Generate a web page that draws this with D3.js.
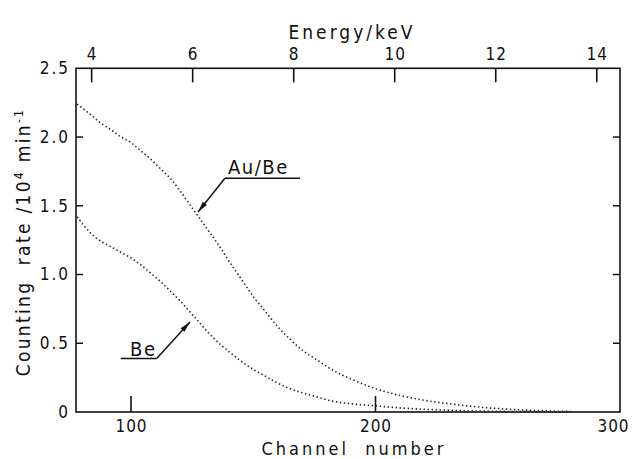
<!DOCTYPE html>
<html>
<head>
<meta charset="utf-8">
<script src="https://cdn.jsdelivr.net/npm/d3@7"></script>
<style>
  html, body { margin: 0; padding: 0; background: #fff; }
  svg text {
    font-family: 'DejaVu Sans Condensed', 'DejaVu Sans', sans-serif;
    font-stretch: condensed;
    fill: #111;
  }
</style>
</head>
<body>
<svg id="chart" width="632" height="459"></svg>
<script>
// Channel numbers at which both spectra are sampled
const channels = [78, 83, 87, 92, 96, 100, 104, 108, 112, 116, 120, 124, 128, 132, 136, 140,
  145, 150, 155, 160, 165, 170, 176, 182, 190, 200, 210, 220, 230, 240, 250, 260, 270, 280];
// Counting rate (10^4 min^-1), Au/Be source
const auBeRate = [2.24, 2.17, 2.11, 2.05, 2.00, 1.96, 1.90, 1.84, 1.77, 1.70, 1.61, 1.51, 1.41, 1.31,
  1.21, 1.10, 0.97, 0.84, 0.73, 0.62, 0.53, 0.45, 0.38, 0.31, 0.24, 0.17, 0.12, 0.085, 0.06, 0.04,
  0.025, 0.015, 0.008, 0.004];
// Counting rate (10^4 min^-1), Be source
const beRate = [1.42, 1.31, 1.25, 1.20, 1.16, 1.12, 1.07, 1.01, 0.95, 0.88, 0.81, 0.73, 0.65, 0.57,
  0.50, 0.44, 0.37, 0.31, 0.26, 0.21, 0.17, 0.14, 0.11, 0.08, 0.06, 0.045, 0.03, 0.02, 0.013, 0.008,
  0.005, 0.003, 0.001, 0.0];

const channelTicks = [100, 200, 300];
const energyTicks = [4, 6, 8, 10, 12, 14];
const rateTicks = [0, 0.5, 1.0, 1.5, 2.0, 2.5];
const rateTickLabels = ["0", "0.5", "1.0", "1.5", "2.0", "2.5"];

const svg = d3.select("#chart");
const plotL = 76, plotR = 620, plotT = 68.3, plotB = 412;

const x = d3.scaleLinear().domain([77.5, 300]).range([plotL, plotR]);
const xE = d3.scaleLinear().domain([3.69, 14.46]).range([plotL, plotR]);
const y = d3.scaleLinear().domain([0, 2.5]).range([plotB, plotT]);

// Frame
svg.append("rect")
  .attr("x", plotL).attr("y", plotT)
  .attr("width", plotR - plotL).attr("height", plotB - plotT)
  .attr("fill", "none").attr("stroke", "#111").attr("stroke-width", 1.6);

// Bottom axis: channel number (ticks point inward)
const gB = svg.append("g").attr("transform", `translate(0,${plotB})`)
  .call(d3.axisBottom(x).tickValues(channelTicks).tickSize(0).tickPadding(8).tickFormat(d3.format("d")));
gB.select(".domain").remove();
gB.selectAll("text").attr("font-size", 17).attr("letter-spacing", 1).attr("fill", "#111")
  .attr("dx", d => d === 300 ? -7 : 0);
svg.append("g").selectAll("line").data(channelTicks.filter(d => d < 300)).join("line")
  .attr("x1", d => x(d)).attr("x2", d => x(d))
  .attr("y1", plotB).attr("y2", plotB - 16)
  .attr("stroke", "#111").attr("stroke-width", 1.6);

// Top axis: energy
const gT = svg.append("g").attr("transform", `translate(0,${plotT})`)
  .call(d3.axisTop(xE).tickValues(energyTicks).tickSize(0).tickPadding(8).tickFormat(d3.format("d")));
gT.select(".domain").remove();
gT.selectAll("text").attr("font-size", 17).attr("letter-spacing", 1).attr("fill", "#111");
svg.append("g").selectAll("line").data(energyTicks).join("line")
  .attr("x1", d => xE(d)).attr("x2", d => xE(d))
  .attr("y1", plotT).attr("y2", plotT + 14)
  .attr("stroke", "#111").attr("stroke-width", 1.6);

// Left axis: counting rate
const gL = svg.append("g").attr("transform", `translate(${plotL},0)`)
  .call(d3.axisLeft(y).tickValues(rateTicks).tickSize(0).tickPadding(6)
    .tickFormat((d, i) => rateTickLabels[i]));
gL.select(".domain").remove();
gL.selectAll("text").attr("font-size", 17).attr("letter-spacing", 2).attr("fill", "#111");
const inner = rateTicks.filter(d => d > 0 && d < 2.5);
svg.append("g").selectAll("line").data(inner).join("line")
  .attr("x1", plotL).attr("x2", plotL + 7)
  .attr("y1", d => y(d)).attr("y2", d => y(d))
  .attr("stroke", "#111").attr("stroke-width", 1.5);
svg.append("g").selectAll("line").data(inner).join("line")
  .attr("x1", plotR).attr("x2", plotR - 7)
  .attr("y1", d => y(d)).attr("y2", d => y(d))
  .attr("stroke", "#111").attr("stroke-width", 1.5);

// Axis titles
svg.append("text").attr("x", 352).attr("y", 39).attr("text-anchor", "middle")
  .attr("font-size", 19).attr("letter-spacing", 3).text("Energy/keV");
svg.append("text").attr("x", 354).attr("y", 455).attr("text-anchor", "middle")
  .attr("font-size", 18).attr("letter-spacing", 3).attr("xml:space", "preserve")
  .text("Channel  number");

const yt = svg.append("text")
  .attr("transform", "translate(30,242) rotate(-90)")
  .attr("text-anchor", "middle").attr("font-size", 19).attr("letter-spacing", 2.3)
  .attr("xml:space", "preserve");
yt.append("tspan").text("Counting  rate /10");
yt.append("tspan").attr("font-size", 12).attr("dy", -7).text("4");
yt.append("tspan").attr("dy", 7).text(" min");
yt.append("tspan").attr("font-size", 12).attr("dy", -7).text("-1");

// Dotted spectra
const line = d3.line().x(d => x(d[0])).y(d => y(d[1])).curve(d3.curveMonotoneX);
[auBeRate, beRate].forEach(series => {
  svg.append("path")
    .datum(channels.map((c, i) => [c, series[i]]))
    .attr("d", line)
    .attr("fill", "none")
    .attr("stroke", "#222")
    .attr("stroke-width", 1.6)
    .attr("stroke-dasharray", "1.4 2.6");
});

// Annotations with arrows: label, underline, leader to the curve
const notes = [
  { text: "Au/Be", tx: 139.7, ty: 1.73, u0: 138.4, u1: 169.1, uy: 1.70, tipX: 127.4, tipY: 1.455, elbow: 138.4 },
  { text: "Be", tx: 99.6, ty: 0.41, u0: 95.8, u1: 110.5, uy: 0.39, tipX: 124.1, tipY: 0.655, elbow: 110.5 }
];
notes.forEach(n => {
  svg.append("text").attr("x", x(n.tx)).attr("y", y(n.ty))
    .attr("font-size", 20).attr("letter-spacing", 1.5).text(n.text);
  svg.append("line").attr("x1", x(n.u0)).attr("x2", x(n.u1))
    .attr("y1", y(n.uy)).attr("y2", y(n.uy))
    .attr("stroke", "#111").attr("stroke-width", 1.5);
  const ex = x(n.elbow), ey = y(n.uy), tx = x(n.tipX), ty = y(n.tipY);
  svg.append("line").attr("x1", ex).attr("y1", ey).attr("x2", tx).attr("y2", ty)
    .attr("stroke", "#111").attr("stroke-width", 1.5);
  // arrowhead
  const ang = Math.atan2(ty - ey, tx - ex);
  const L = 11, W = 2.6;
  const bx = tx - L * Math.cos(ang), by = ty - L * Math.sin(ang);
  const px = -Math.sin(ang) * W, py = Math.cos(ang) * W;
  svg.append("path")
    .attr("d", `M${tx},${ty}L${bx + px},${by + py}L${bx - px},${by - py}Z`)
    .attr("fill", "#111");
});
</script>
</body>
</html>
